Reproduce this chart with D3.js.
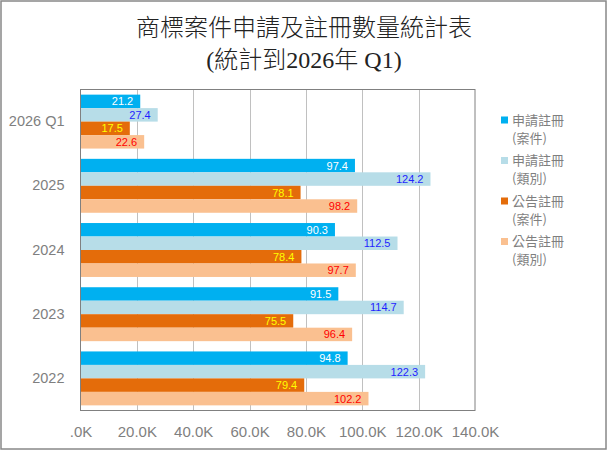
<!DOCTYPE html>
<html>
<head>
  <meta charset="utf-8">
  <title>商標案件申請及註冊數量統計表</title>
  <script src="https://cdn.jsdelivr.net/npm/d3@7/dist/d3.min.js"></script>
  <style>
    body { margin: 0; background: #fff; }
    text { font-family: "Liberation Sans", Arial, "Noto Sans CJK TC", sans-serif; }
  </style>
</head>
<body>
<script>
  // values in thousands
  var categories = ["2026 Q1", "2025", "2024", "2023", "2022"];
  var appCases   = [21.2, 97.4, 90.3, 91.5, 94.8];
  var appClasses = [27.4, 124.2, 112.5, 114.7, 122.3];
  var pubCases   = [17.5, 78.1, 78.4, 75.5, 79.4];
  var pubClasses = [22.6, 98.2, 97.7, 96.4, 102.2];
  var seriesNames = [["申請註冊", "(案件)"], ["申請註冊", "(類別)"], ["公告註冊", "(案件)"], ["公告註冊", "(類別)"]];
  var xTicks = [0, 20, 40, 60, 80, 100, 120, 140];

  var colors = ["#00b0f0", "#b7dde8", "#e46c0a", "#fac090"];
  var labelColors = ["#ffffff", "#1f1fff", "#ffff00", "#ff0000"];

  var series = [appCases, appClasses, pubCases, pubClasses].map(function (vals, i) {
    return { name: seriesNames[i], color: colors[i], labelColor: labelColors[i], values: vals };
  });

  var W = 608, H = 451;
  var plot = { left: 80.5, right: 475, top: 89.5, bottom: 410.5 };

  var svg = d3.select("body").append("svg")
      .attr("width", W).attr("height", H);

  svg.append("rect")
      .attr("x", 1).attr("y", 1).attr("width", W - 3).attr("height", H - 3)
      .attr("fill", "#fff").attr("stroke", "#888").attr("stroke-width", 1.5);

  // title
  var title = svg.append("text")
      .attr("text-anchor", "middle")
      .style("font-family", "'Liberation Serif', 'Noto Sans CJK TC', serif")
      .style("font-size", "24px")
      .style("font-weight", "300")
      .attr("fill", "#222");
  title.append("tspan").attr("x", 304).attr("y", 36).text("商標案件申請及註冊數量統計表");
  title.append("tspan").attr("x", 304).attr("y", 68).text("(統計到2026年 Q1)");

  var x = d3.scaleLinear().domain([0, 140]).range([plot.left, plot.right]);
  var y = d3.scaleBand().domain(categories).range([plot.top, plot.bottom])
      .paddingInner(0.16).paddingOuter(0.08);
  var yInner = d3.scaleBand().domain(d3.range(series.length)).range([0, y.bandwidth()]);

  // gridlines
  svg.append("g").selectAll("line")
      .data(xTicks.filter(function (d) { return d > 0 && d < 140; }))
      .enter().append("line")
        .attr("x1", function (d) { return Math.round(x(d)) + 0.5; })
        .attr("x2", function (d) { return Math.round(x(d)) + 0.5; })
        .attr("y1", plot.top).attr("y2", plot.bottom)
        .attr("stroke", "#c0c0c0");

  // bars
  var groups = svg.append("g").selectAll("g")
      .data(series).enter().append("g");

  groups.selectAll("rect")
      .data(function (s) { return s.values.map(function (v, j) { return { v: v, cat: categories[j], s: s }; }); })
      .enter().append("rect")
        .attr("x", x(0))
        .attr("y", function (d) { return y(d.cat) + yInner(series.indexOf(d.s)); })
        .attr("width", function (d) { return x(d.v) - x(0); })
        .attr("height", yInner.bandwidth())
        .attr("fill", function (d) { return d.s.color; });

  groups.selectAll("text")
      .data(function (s) { return s.values.map(function (v, j) { return { v: v, cat: categories[j], s: s }; }); })
      .enter().append("text")
        .attr("x", function (d) { return x(d.v) - 7; })
        .attr("y", function (d) { return y(d.cat) + yInner(series.indexOf(d.s)) + yInner.bandwidth() / 2; })
        .attr("dy", "0.36em")
        .attr("text-anchor", "end")
        .style("font-size", "11px")
        .attr("fill", function (d) { return d.s.labelColor; })
        .text(function (d) { return d3.format(".1f")(d.v); });

  // plot frame
  svg.append("rect")
      .attr("x", plot.left).attr("y", plot.top)
      .attr("width", plot.right - plot.left).attr("height", plot.bottom - plot.top)
      .attr("fill", "none").attr("stroke", "#808080");

  // x axis labels
  var xAxis = svg.append("g")
      .attr("transform", "translate(0," + plot.bottom + ")")
      .call(d3.axisBottom(x).tickValues(xTicks).tickSize(0).tickPadding(16)
        .tickFormat(function (d) { return d === 0 ? ".0K" : d3.format(".1f")(d) + "K"; }));
  xAxis.select(".domain").remove();
  xAxis.selectAll("text")
      .style("font-family", "'Liberation Sans', Arial, sans-serif")
      .style("font-size", "15px").attr("fill", "#7f7f7f");

  // y axis labels
  var yAxis = svg.append("g")
      .attr("transform", "translate(" + plot.left + ",0)")
      .call(d3.axisLeft(y).tickSize(0).tickPadding(16));
  yAxis.select(".domain").remove();
  yAxis.selectAll("text")
      .style("font-family", "'Liberation Sans', Arial, sans-serif")
      .style("font-size", "14.5px").attr("fill", "#7f7f7f");

  // legend
  var legend = svg.append("g").selectAll("g")
      .data(series).enter().append("g")
        .attr("transform", function (d, i) { return "translate(501," + (120 + i * 40.5) + ")"; });

  legend.append("rect")
      .attr("x", 0).attr("y", -3.5).attr("width", 7).attr("height", 7)
      .attr("fill", function (d) { return d.color; });

  legend.append("text")
      .style("font-family", "'Noto Sans CJK TC', sans-serif")
      .style("font-size", "13px")
      .attr("fill", "#7f7f7f")
      .selectAll("tspan")
      .data(function (d) { return d.name; })
      .enter().append("tspan")
        .attr("x", 11)
        .attr("y", function (d, i) { return i * 18; })
        .attr("dy", "0.36em")
        .text(function (d) { return d; });
</script>
</body>
</html>
